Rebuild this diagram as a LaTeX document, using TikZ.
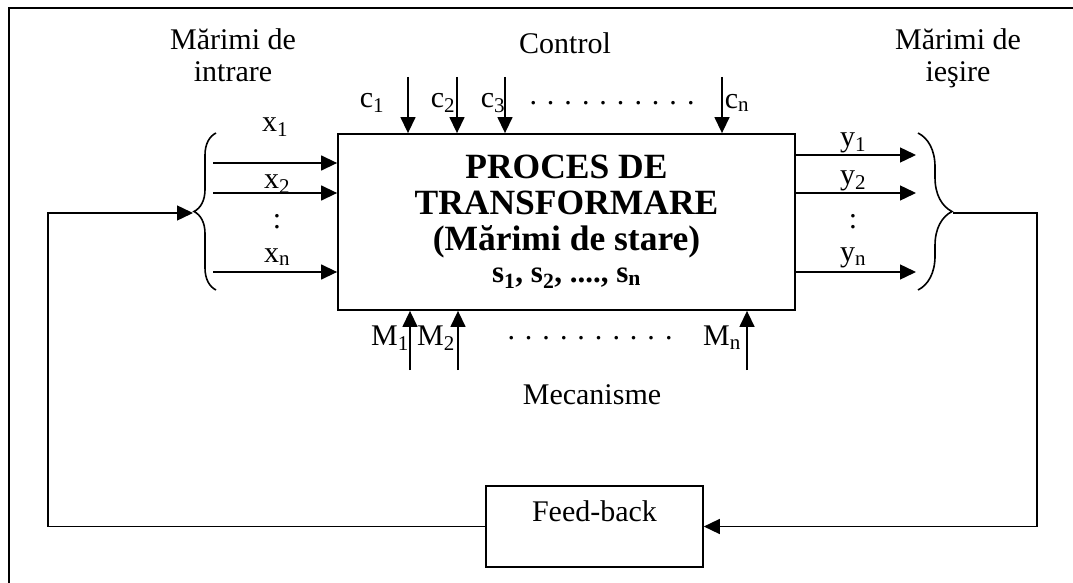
\documentclass[tikz,border=0pt]{standalone}
\usepackage{fontspec}
\setmainfont{Liberation Serif}
\usetikzlibrary{arrows.meta,decorations.pathreplacing}
\begin{document}
\begin{tikzpicture}[x=1pt,y=-1pt,
  line width=1.4pt,
  arr/.style={-{Triangle[length=16pt,width=15pt]}},
  lbl/.style={font=\fontsize{30}{32}\selectfont, inner sep=0pt, align=center},
  brc/.style={decorate, decoration={brace, amplitude=#1}, line width=1.6pt}]
\useasboundingbox (0,0) rectangle (1073,583);
% frame
\draw[line width=2pt] (9,583) -- (9,8) -- (1073,8);

% main box
\node[draw, line width=1.8pt, minimum width=457pt, minimum height=176pt, align=center,
      font=\bfseries\fontsize{35.5}{36}\selectfont] (proc) at (566.5,222)
  {PROCES DE\\TRANSFORMARE\\(Mărimi de stare)\\[-4pt]{\fontsize{31}{36}\selectfont s\textsubscript{1}, s\textsubscript{2}, ...., s\textsubscript{n}}\\[-29pt]};

% feedback box
\node[draw, line width=1.6pt, minimum width=217pt, inner xsep=0pt, inner ysep=0pt,
      text height=35pt, text depth=46pt, font=\fontsize{30}{32}\selectfont] (fb) at (594.5,526.5) {Feed-back};

% titles
\node[lbl, anchor=north] (tin) at (233,28) {Mărimi de\\intrare};
\node[lbl, anchor=north] (tout) at (958,28) {Mărimi de\\ieşire};
\node[lbl] (tctl) at (565,43) {Control};
\node[lbl] (tmec) at (592,395) {Mecanisme};

% braces
\coordinate (lbt) at (193,213);
\coordinate (rbt) at (953,213);
\draw[brc=22pt] (216,290) -- (216,133);
\draw[brc=34pt] (918,133) -- (918,290);

% input arrows
\foreach \i/\yy in {1/163,2/193,n/272}{
  \coordinate (xs\i) at (213,\yy);
  \draw[arr] (xs\i) -- (xs\i -| proc.west);
}
\node[lbl] (lx1) at (275,127) {x\textsubscript{1}};
\node[lbl] (lx2) at (277,184) {x\textsubscript{2}};
\node[lbl] (lxd) at (277,222) {:};
\node[lbl] (lxn) at (277,257) {x\textsubscript{n}};

% output arrows
\foreach \i/\yy in {1/155,2/193,n/272}{
  \coordinate (ye\i) at (916,\yy);
  \draw[arr] (ye\i -| proc.east) -- (ye\i);
}
\node[lbl] (ly1) at (853,143) {y\textsubscript{1}};
\node[lbl] (ly2) at (853,181) {y\textsubscript{2}};
\node[lbl] (lyd) at (853,222) {:};
\node[lbl] (lyn) at (853,258) {y\textsubscript{n}};

% control arrows
\foreach \i/\xx in {1/408,2/457,3/505,n/722}{
  \coordinate (cs\i) at (\xx,77);
  \draw[arr] (cs\i) -- (cs\i |- proc.north);
}
\node[lbl] (lc1) at (372,103) {c\textsubscript{1}};
\node[lbl] (lc2) at (443,103) {c\textsubscript{2}};
\node[lbl] (lc3) at (493,103) {c\textsubscript{3}};
\node[lbl] (lcd) at (612,103) {. . . . . . . . . .};
\node[lbl] (lcn) at (737,103) {c\textsubscript{n}};

% mechanism arrows
\foreach \i/\xx in {1/410,2/458,n/747}{
  \coordinate (ms\i) at (\xx,370);
  \draw[arr] (ms\i) -- (ms\i |- proc.south);
}
\node[lbl] (lm1) at (390,338) {M\textsubscript{1}};
\node[lbl] (lm2) at (436,338) {M\textsubscript{2}};
\node[lbl] (lmd) at (590,338) {. . . . . . . . . .};
\node[lbl] (lmn) at (722,338) {M\textsubscript{n}};

% feedback loop
\coordinate (rc1) at (1037,213);
\coordinate (lc1c) at (48,213);
\draw[arr] (rbt) -- (rc1) |- (fb.east);
\draw[arr] (fb.west) -| (lc1c) -- (lbt);
\end{tikzpicture}
\end{document}
